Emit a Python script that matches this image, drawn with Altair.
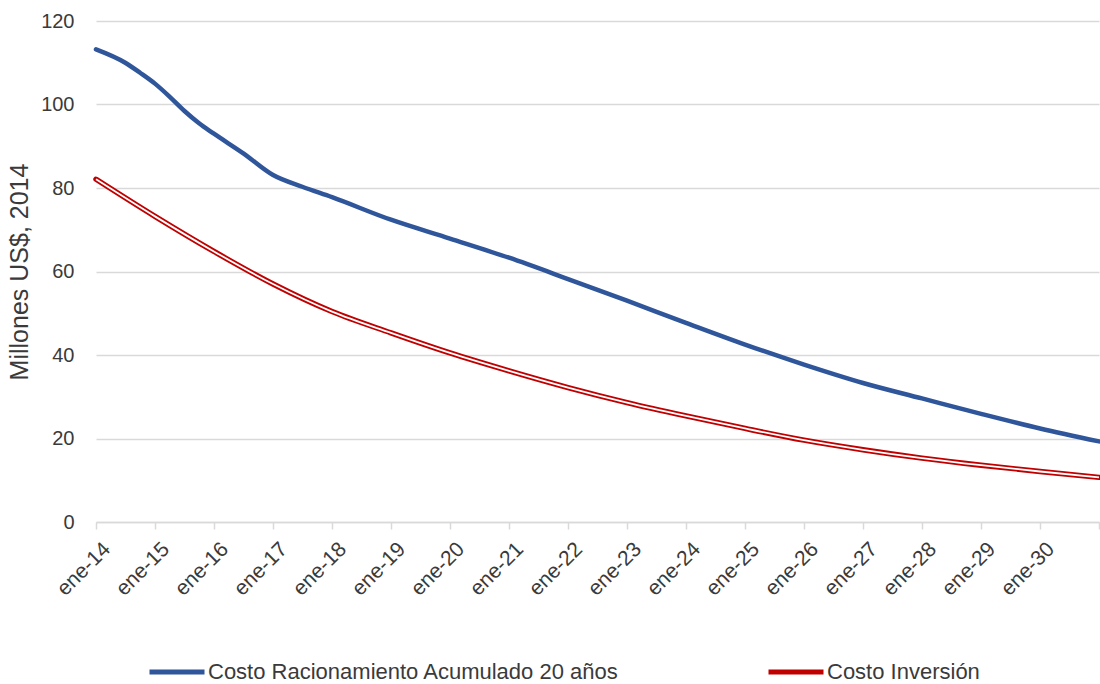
import altair as alt
import pandas as pd

# Serie azul: costo de racionamiento acumulado a 20 años (millones US$ de 2014)
fechas_racionamiento = [
    "2014-01-01", "2014-07-01", "2014-10-01", "2015-01-01", "2015-04-01",
    "2015-07-01", "2015-10-01", "2016-01-01", "2016-07-01", "2017-01-01",
    "2017-07-01", "2018-01-01", "2019-01-01", "2020-01-01", "2021-01-01",
    "2022-01-01", "2023-01-01", "2024-01-01", "2025-01-01", "2026-01-01",
    "2027-01-01", "2028-01-01", "2029-01-01", "2030-01-01", "2031-01-01",
]
valores_racionamiento = [
    113.2, 110.0, 107.6, 105.0, 101.9,
    98.5, 95.5, 93.0, 88.3, 83.1,
    80.3, 77.8, 72.4, 67.9, 63.3,
    58.2, 53.0, 47.7, 42.5, 37.7,
    33.3, 29.6, 25.9, 22.4, 19.3,
]

# Serie roja: costo de inversión (millones US$ de 2014)
fechas_inversion = [
    "2014-01-01", "2015-01-01", "2016-01-01", "2017-01-01", "2018-01-01",
    "2019-01-01", "2020-01-01", "2021-01-01", "2022-01-01", "2023-01-01",
    "2024-01-01", "2025-01-01", "2026-01-01", "2027-01-01", "2028-01-01",
    "2029-01-01", "2030-01-01", "2031-01-01",
]
valores_inversion = [
    82.1, 73.2, 64.8, 57.0, 50.4,
    45.3, 40.5, 36.2, 32.2, 28.6,
    25.4, 22.4, 19.6, 17.3, 15.3,
    13.6, 12.1, 10.7,
]

series = ["Costo Racionamiento Acumulado 20 años", "Costo Inversión"]
colores = ["#2F559A", "#C00000"]
anios_eje = list(range(2014, 2032))
valores_y = [0, 20, 40, 60, 80, 100, 120]

df_rac = pd.DataFrame({"fecha": fechas_racionamiento, "valor": valores_racionamiento, "serie": series[0]})
df_inv = pd.DataFrame({"fecha": fechas_inversion, "valor": valores_inversion, "serie": series[1]})

FUENTE = "Liberation Sans"
TEXTO = "#3a3a3a"
GRIS = "#d9d9d9"

x_enc = alt.X(
    "fecha:T",
    scale=alt.Scale(
        type="utc",
        domain=[alt.DateTime(year=2014, month=1, date=1, utc=True),
                alt.DateTime(year=2031, month=1, date=1, utc=True)],
    ),
    axis=alt.Axis(
        values=[alt.DateTime(year=a, month=1, date=1, utc=True) for a in anios_eje],
        labelExpr="utcyear(datum.value) > 2030 ? '' : 'ene-' + utcFormat(datum.value, '%y')",
        labelAngle=-45,
        labelAlign="right",
        labelBaseline="top",
        labelPadding=9,
        labelOffset=3,
        labelFontSize=21,
        labelColor=TEXTO,
        labelFont=FUENTE,
        labelOverlap=False,
        grid=False,
        domainColor=GRIS,
        domainWidth=1.5,
        tickColor=GRIS,
        tickWidth=1.5,
        tickSize=7,
        title=None,
    ),
)

y_enc = alt.Y(
    "valor:Q",
    scale=alt.Scale(domain=[0, 120], nice=False),
    axis=alt.Axis(
        values=valores_y,
        grid=True,
        gridColor=GRIS,
        gridWidth=1.5,
        domain=False,
        ticks=False,
        labelPadding=22,
        labelFontSize=20,
        labelColor=TEXTO,
        labelFont=FUENTE,
        title="Millones US$, 2014",
        titleFont=FUENTE,
        titleFontSize=25,
        titleFontWeight="normal",
        titleColor=TEXTO,
        titlePadding=8,
    ),
)

color_enc = alt.Color(
    "serie:N",
    scale=alt.Scale(domain=series, range=colores),
    legend=alt.Legend(
        orient="none",
        legendX=51,
        legendY=621,
        direction="horizontal",
        title=None,
        symbolType="stroke",
        symbolSize=3025,
        symbolStrokeWidth=5,
        labelFontSize=22,
        labelFont=FUENTE,
        labelColor=TEXTO,
        labelLimit=0,
        labelOffset=1,
        columnPadding=139,
    ),
)

linea_azul = alt.Chart(df_rac).mark_line(
    strokeWidth=4.5, interpolate="monotone", strokeCap="round"
).encode(x=x_enc, y=y_enc, color=color_enc)

linea_roja = alt.Chart(df_inv).mark_line(
    strokeWidth=5.4, interpolate="monotone", strokeCap="round"
).encode(x=x_enc, y=y_enc, color=color_enc)

# trazo blanco interior que da a la serie roja su aspecto de doble línea
linea_roja_interior = alt.Chart(df_inv).mark_line(
    strokeWidth=1.8, interpolate="monotone", color="white"
).encode(x=x_enc, y=y_enc)

chart = (
    alt.layer(linea_azul, linea_roja, linea_roja_interior)
    .properties(
        width=1003,
        height=501,
        autosize=alt.AutoSizeParams(type="none"),
        padding={"left": 96, "top": 21, "right": 1, "bottom": 162},
        background="white",
    )
    .configure_view(stroke=None)
)

chart.save("out.html", embed_options={"renderer": "svg", "actions": False})
